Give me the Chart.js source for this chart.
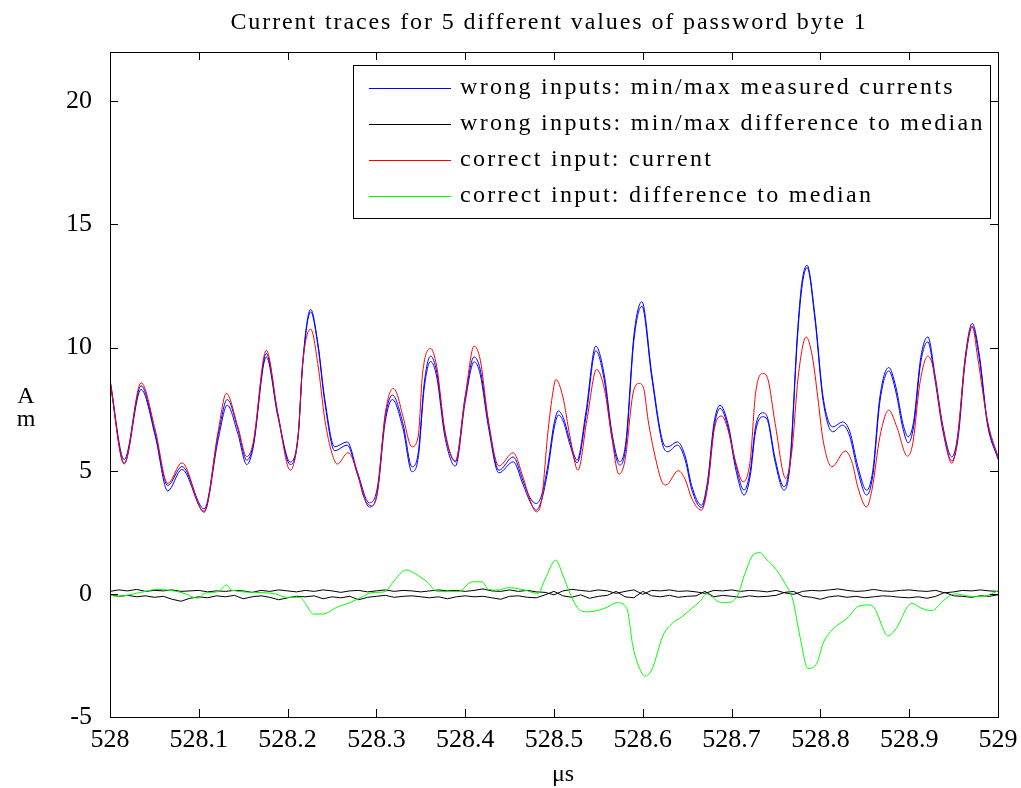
<!DOCTYPE html>
<html>
<head>
<meta charset="utf-8">
<script src="https://cdn.jsdelivr.net/npm/chart.js@4.4.1/dist/chart.umd.min.js"></script>
<style>
  body { margin: 0; background: #fff; }
  #wrap { width: 1021px; height: 788px; }
</style>
</head>
<body>
<div id="wrap"><canvas id="traces" width="1021" height="788"></canvas></div>
<script>
// time in microseconds, current in mA
var titleText = 'Current traces for 5 different values of password byte 1';
var legendLabels = ['wrong inputs: min/max measured currents', 'wrong inputs: min/max difference to median', 'correct input: current', 'correct input: difference to median'];
var xTicks = [528, 528.1, 528.2, 528.3, 528.4, 528.5, 528.6, 528.7, 528.8, 528.9, 529];
var xTickLabels = ['528', '528.1', '528.2', '528.3', '528.4', '528.5', '528.6', '528.7', '528.8', '528.9', '529'];
var yTicks = [-5, 0, 5, 10, 15, 20];
var yTickLabels = ['-5', '0', '5', '10', '15', '20'];

// wrong inputs: min / max measured current
var blueT = [528.000, 528.016, 528.035, 528.051, 528.065, 528.081, 528.106, 528.122, 528.132, 528.144,
  528.154, 528.161, 528.176, 528.189, 528.203, 528.212, 528.217, 528.226, 528.234, 528.242,
  528.253, 528.267, 528.279, 528.292, 528.301, 528.310, 528.318, 528.330, 528.340, 528.347,
  528.354, 528.361, 528.368, 528.377, 528.389, 528.400, 528.410, 528.417, 528.426, 528.438,
  528.454, 528.465, 528.473, 528.480, 528.486, 528.493, 528.500, 528.505, 528.511, 528.518,
  528.526, 528.536, 528.547, 528.557, 528.565, 528.574, 528.581, 528.590, 528.599, 528.610,
  528.622, 528.628, 528.639, 528.648, 528.655, 528.666, 528.673, 528.680, 528.687, 528.696,
  528.705, 528.714, 528.721, 528.727, 528.735, 528.740, 528.749, 528.759, 528.766, 528.774,
  528.779, 528.785, 528.794, 528.803, 528.814, 528.825, 528.833, 528.842, 528.852, 528.859,
  528.867, 528.877, 528.885, 528.893, 528.899, 528.905, 528.913, 528.921, 528.929, 528.938,
  528.948, 528.955, 528.963, 528.971, 528.979, 528.988, 529.000];
var blueMax = [8.70, 5.45, 8.45, 6.50, 4.40, 5.17, 3.45, 6.50, 7.89, 6.70,
  5.43, 6.00, 9.76, 7.30, 5.35, 6.50, 9.40, 11.55, 10.20, 7.87,
  5.97, 6.17, 4.90, 3.70, 4.30, 7.20, 8.07, 6.90, 5.16, 5.70,
  8.60, 9.65, 9.00, 6.60, 5.36, 8.00, 9.62, 9.10, 7.00, 5.02,
  5.56, 4.60, 3.90, 3.67, 4.00, 5.20, 6.90, 7.43, 7.10, 6.20,
  5.43, 7.40, 10.06, 8.80, 6.60, 5.36, 6.20, 10.50, 11.86, 8.95,
  6.24, 5.97, 6.17, 5.56, 4.40, 3.60, 4.60, 6.90, 7.66, 6.90,
  5.20, 4.21, 5.00, 6.80, 7.35, 7.20, 5.50, 4.35, 5.50, 10.50,
  12.60, 13.34, 11.25, 8.00, 6.78, 6.98, 6.60, 5.20, 4.21, 5.00,
  8.00, 9.19, 8.40, 6.90, 6.38, 7.00, 9.60, 10.43, 8.90, 6.80,
  5.56, 6.50, 9.60, 10.98, 9.70, 7.00, 5.56];
var blueMin = [8.60, 5.30, 8.30, 6.40, 4.18, 5.05, 3.35, 6.30, 7.66, 6.50,
  5.25, 5.90, 9.62, 7.20, 5.25, 6.40, 9.30, 11.45, 10.10, 7.75,
  5.81, 6.04, 4.80, 3.53, 4.10, 7.00, 7.89, 6.70, 4.96, 5.50,
  8.40, 9.43, 8.80, 6.40, 5.19, 7.80, 9.42, 8.90, 6.80, 4.91,
  5.36, 4.45, 3.75, 3.40, 3.80, 5.00, 6.70, 7.26, 6.95, 6.05,
  5.32, 7.20, 9.87, 8.60, 6.40, 5.23, 6.00, 10.30, 11.68, 8.80,
  6.10, 5.77, 6.04, 5.40, 4.25, 3.50, 4.40, 6.70, 7.53, 6.75,
  5.00, 4.01, 4.80, 6.60, 7.19, 7.08, 5.35, 4.21, 5.30, 10.30,
  12.40, 13.25, 11.10, 7.85, 6.58, 6.85, 6.40, 5.00, 4.01, 4.80,
  7.80, 9.05, 8.20, 6.70, 6.13, 6.80, 9.40, 10.23, 8.70, 6.60,
  5.40, 6.30, 9.40, 10.84, 9.55, 6.90, 5.46];

// correct input: current
var redT = [528.000, 528.016, 528.035, 528.051, 528.065, 528.081, 528.106, 528.122, 528.131, 528.144,
  528.154, 528.161, 528.176, 528.189, 528.203, 528.212, 528.217, 528.226, 528.234, 528.242,
  528.250, 528.256, 528.268, 528.279, 528.285, 528.294, 528.301, 528.310, 528.319, 528.323,
  528.330, 528.340, 528.347, 528.352, 528.361, 528.368, 528.377, 528.389, 528.400, 528.410,
  528.417, 528.426, 528.438, 528.454, 528.465, 528.473, 528.480, 528.486, 528.493, 528.498,
  528.502, 528.510, 528.518, 528.527, 528.537, 528.548, 528.557, 528.565, 528.573, 528.580,
  528.589, 528.596, 528.601, 528.606, 528.614, 528.623, 528.626, 528.640, 528.648, 528.655,
  528.666, 528.673, 528.681, 528.689, 528.696, 528.704, 528.713, 528.721, 528.727, 528.735,
  528.741, 528.749, 528.761, 528.768, 528.775, 528.784, 528.791, 528.797, 528.803, 528.813,
  528.828, 528.836, 528.842, 528.852, 528.858, 528.867, 528.877, 528.886, 528.898, 528.904,
  528.912, 528.921, 528.927, 528.937, 528.948, 528.954, 528.963, 528.971, 528.977, 528.988,
  529.000];
var redV = [8.68, 5.27, 8.57, 6.65, 4.48, 5.32, 3.31, 6.65, 8.14, 6.78,
  5.57, 6.10, 9.89, 7.33, 5.02, 6.51, 9.35, 10.75, 9.35, 7.05,
  5.70, 5.27, 5.73, 4.89, 4.01, 3.58, 4.08, 7.33, 8.34, 8.14,
  7.19, 5.97, 6.38, 8.95, 9.96, 9.22, 6.65, 5.40, 8.00, 10.06,
  9.49, 7.05, 5.19, 5.73, 4.75, 3.81, 3.33, 3.81, 6.51, 8.00,
  8.70, 8.00, 6.38, 5.02, 7.05, 9.11, 8.27, 6.38, 4.86, 5.43,
  8.14, 8.54, 8.34, 7.05, 5.56, 4.46, 4.42, 5.00, 4.62, 3.88,
  3.40, 4.35, 6.78, 7.22, 6.65, 5.43, 4.55, 5.43, 8.14, 8.95,
  8.70, 6.92, 4.69, 5.84, 8.81, 10.43, 9.62, 8.00, 6.24, 5.16,
  5.80, 5.30, 4.35, 3.53, 4.21, 6.38, 7.46, 6.78, 5.59, 6.10,
  8.54, 9.65, 9.20, 6.92, 5.30, 6.24, 9.49, 10.87, 9.62, 7.05,
  5.55];

// correct input: difference to median
var greenT = [528.000, 528.009, 528.032, 528.053, 528.081, 528.099, 528.107, 528.122, 528.131, 528.137,
  528.171, 528.186, 528.199, 528.214, 528.220, 528.229, 528.239, 528.257, 528.270, 528.284,
  528.295, 528.310, 528.318, 528.334, 528.343, 528.357, 528.369, 528.392, 528.408, 528.419,
  528.426, 528.437, 528.448, 528.464, 528.482, 528.490, 528.502, 528.510, 528.518, 528.527,
  528.538, 528.557, 528.571, 528.582, 528.589, 528.599, 528.602, 528.610, 528.623, 528.633,
  528.644, 528.655, 528.664, 528.672, 528.678, 528.685, 528.695, 528.707, 528.715, 528.726,
  528.732, 528.740, 528.747, 528.760, 528.769, 528.777, 528.786, 528.796, 528.803, 528.813,
  528.831, 528.842, 528.854, 528.861, 528.873, 528.876, 528.884, 528.903, 528.914, 528.926,
  528.937, 528.952, 528.966, 528.982, 529.000];
var greenV = [-0.05, -0.10, 0.04, 0.18, 0.05, -0.18, 0.03, 0.09, 0.36, 0.15,
  0.05, 0.00, -0.14, -0.14, -0.39, -0.82, -0.82, -0.52, -0.36, -0.12,
  0.05, 0.09, 0.45, 0.97, 0.83, 0.49, 0.09, 0.09, 0.49, 0.49,
  0.18, 0.15, 0.25, 0.18, 0.02, 0.60, 1.37, 0.76, 0.02, -0.59,
  -0.73, -0.59, -0.36, -0.59, -2.15, -3.23, -3.34, -3.09, -1.67, -1.20,
  -0.93, -0.59, -0.32, 0.00, -0.12, -0.32, -0.36, -0.05, 0.83, 1.64,
  1.67, 1.37, 1.13, 0.43, -0.25, -1.74, -3.03, -2.82, -2.01, -1.47,
  -0.96, -0.52, -0.45, -0.59, -1.60, -1.71, -1.47, -0.39, -0.59, -0.68,
  -0.32, 0.00, -0.09, -0.12, 0.12];

// wrong inputs: min / max difference to median
var blackT = [528.00, 528.01, 528.02, 528.03, 528.04, 528.05, 528.06, 528.07, 528.08, 528.09,
  528.10, 528.11, 528.12, 528.13, 528.14, 528.15, 528.16, 528.17, 528.18, 528.19,
  528.20, 528.21, 528.22, 528.23, 528.24, 528.25, 528.26, 528.27, 528.28, 528.29,
  528.30, 528.31, 528.32, 528.33, 528.34, 528.35, 528.36, 528.37, 528.38, 528.39,
  528.40, 528.41, 528.42, 528.43, 528.44, 528.45, 528.46, 528.47, 528.48, 528.49,
  528.50, 528.51, 528.52, 528.53, 528.54, 528.55, 528.56, 528.57, 528.58, 528.59,
  528.60, 528.61, 528.62, 528.63, 528.64, 528.65, 528.66, 528.67, 528.68, 528.69,
  528.70, 528.71, 528.72, 528.73, 528.74, 528.75, 528.76, 528.77, 528.78, 528.79,
  528.80, 528.81, 528.82, 528.83, 528.84, 528.85, 528.86, 528.87, 528.88, 528.89,
  528.90, 528.91, 528.92, 528.93, 528.94, 528.95, 528.96, 528.97, 528.98, 528.99,
  529.00];
var blackHi = [0.10, 0.16, 0.12, 0.18, 0.10, 0.14, 0.12, 0.16, 0.10, 0.12,
  0.14, 0.08, 0.12, 0.10, 0.14, 0.12, 0.06, 0.14, 0.10, 0.16,
  0.12, 0.08, 0.14, 0.10, 0.16, 0.12, 0.06, 0.12, 0.14, 0.08,
  0.12, 0.16, 0.10, 0.14, 0.12, 0.08, 0.12, 0.16, 0.12, 0.14,
  0.10, 0.14, 0.20, 0.12, 0.10, 0.16, 0.10, 0.14, 0.08, 0.06,
  -0.04, 0.12, 0.18, 0.14, 0.10, 0.16, 0.12, 0.02, 0.10, 0.16,
  -0.02, 0.14, 0.12, 0.16, 0.10, 0.12, 0.08, 0.02, 0.14, 0.12,
  0.16, 0.10, 0.14, 0.12, 0.08, 0.14, 0.04, -0.02, 0.10, 0.14,
  0.12, 0.16, 0.20, 0.14, 0.10, 0.12, 0.18, 0.12, 0.10, 0.14,
  0.16, 0.12, 0.10, 0.14, 0.04, 0.08, 0.14, 0.12, 0.16, 0.12,
  0.10];
var blackLo = [-0.04, -0.10, -0.06, -0.12, -0.08, -0.14, -0.10, -0.22, -0.30, -0.18,
  -0.12, -0.16, -0.08, -0.12, -0.06, -0.20, -0.12, -0.08, -0.14, -0.24,
  -0.16, -0.10, -0.12, -0.08, -0.20, -0.12, -0.16, -0.10, -0.24, -0.14,
  -0.10, -0.06, -0.14, -0.10, -0.08, -0.12, -0.16, -0.12, -0.20, -0.12,
  -0.08, -0.12, -0.10, -0.16, -0.22, -0.10, -0.08, -0.14, -0.16, -0.04,
  0.10, -0.08, -0.14, -0.04, -0.18, -0.10, -0.06, 0.10, -0.12, -0.16,
  0.10, -0.08, -0.12, -0.06, -0.14, -0.10, -0.08, 0.10, -0.12, -0.06,
  -0.10, -0.14, -0.08, -0.12, -0.10, -0.06, 0.06, 0.10, -0.10, -0.14,
  -0.22, -0.12, -0.08, -0.14, -0.10, -0.16, -0.12, -0.08, -0.10, -0.14,
  -0.16, -0.12, -0.18, -0.10, 0.06, -0.08, -0.10, -0.14, -0.08, -0.10,
  -0.04];

function pts(t, v) {
  var out = [];
  for (var i = 0; i < t.length; i++) out.push({ x: t[i], y: v[i] });
  return out;
}

var serif = '"Liberation Serif", "Times New Roman", serif';
var legendColors = ['#0000ff', '#000000', '#ff0000', '#00ff00'];

function line(data, color, smooth) {
  var ds = { data: data, borderColor: color, borderWidth: 1, pointRadius: 0, tension: 0, fill: false };
  if (smooth) ds.cubicInterpolationMode = 'monotone';
  return ds;
}

// first dataset is drawn on top, so list them in reverse of the matlab order
var datasets = [
  line(pts(greenT, greenV), '#00ff00', true),
  line(pts(redT, redV), '#ff0000', true),
  line(pts(blackT, blackLo), '#000000', false),
  line(pts(blackT, blackHi), '#000000', false),
  line(pts(blueT, blueMin), '#0000ff', true),
  line(pts(blueT, blueMax), '#0000ff', true)
];

var decor = {
  id: 'decor',
  afterDraw: function(chart) {
    var ctx = chart.ctx, a = chart.chartArea;
    var xs = chart.scales.x, ys = chart.scales.y;
    ctx.save();
    ctx.strokeStyle = '#000';
    ctx.lineWidth = 1;
    // frame
    ctx.strokeRect(Math.round(a.left) + 0.5, Math.round(a.top) + 0.5, Math.round(a.right - a.left), Math.round(a.bottom - a.top));
    // inward ticks
    ctx.beginPath();
    xTicks.forEach(function(v) {
      var px = Math.round(xs.getPixelForValue(v)) + 0.5;
      ctx.moveTo(px, a.bottom); ctx.lineTo(px, a.bottom - 8);
      ctx.moveTo(px, a.top); ctx.lineTo(px, a.top + 8);
    });
    yTicks.forEach(function(v) {
      var py = Math.round(ys.getPixelForValue(v)) + 0.5;
      ctx.moveTo(a.left, py); ctx.lineTo(a.left + 8, py);
      ctx.moveTo(a.right, py); ctx.lineTo(a.right - 8, py);
    });
    ctx.stroke();

    ctx.fillStyle = '#000';
    ctx.textAlign = 'center';
    ctx.textBaseline = 'middle';
    // title
    ctx.font = '24px ' + serif;
    ctx.letterSpacing = '1.9px';
    ctx.fillText(titleText, 549, 23);
    // axis labels
    ctx.font = '24px ' + serif;
    ctx.letterSpacing = '0px';
    ctx.fillText('\u03bcs', 563, 775);
    ctx.fillText('A', 26, 397);
    ctx.fillText('m', 26, 420);

    // legend
    ctx.fillStyle = '#fff';
    ctx.fillRect(353, 65, 637, 153);
    ctx.strokeRect(353.5, 65.5, 637, 153);
    ctx.textAlign = 'left';
    ctx.font = '24px ' + serif;
    ctx.letterSpacing = '2.3px';
    var rows = [88, 124, 160, 196];
    for (var i = 0; i < legendLabels.length; i++) {
      ctx.strokeStyle = legendColors[i];
      ctx.beginPath();
      ctx.moveTo(369, rows[i] + 0.5); ctx.lineTo(451, rows[i] + 0.5);
      ctx.stroke();
      ctx.fillStyle = '#000';
      ctx.fillText(legendLabels[i], 460, rows[i]);
    }
    ctx.restore();
  }
};

new Chart(document.getElementById('traces').getContext('2d'), {
  type: 'line',
  data: { datasets: datasets },
  options: {
    responsive: false,
    animation: false,
    layout: { padding: { left: 0, right: 23, top: 52, bottom: 0 } },
    plugins: { legend: { display: false }, title: { display: false }, tooltip: { enabled: false } },
    scales: {
      x: {
        type: 'linear', min: 528, max: 529,
        grid: { display: false }, border: { display: false },
        afterBuildTicks: function(s) { s.ticks = xTicks.map(function(v) { return { value: v }; }); },
        afterFit: function(s) { s.height = 71; },
        ticks: {
          autoSkip: false, maxRotation: 0, padding: 0, color: '#000',
          font: { family: serif, size: 26 },
          callback: function(v, i) { return xTickLabels[i]; }
        }
      },
      y: {
        type: 'linear', min: -5, max: 22,
        grid: { display: false }, border: { display: false },
        afterBuildTicks: function(s) { s.ticks = yTicks.map(function(v) { return { value: v }; }); },
        afterFit: function(s) { s.width = 110; },
        ticks: {
          padding: 10, color: '#000',
          font: { family: serif, size: 26 },
          callback: function(v, i) { return yTickLabels[i]; }
        }
      }
    }
  },
  plugins: [decor]
});
</script>
</body>
</html>
